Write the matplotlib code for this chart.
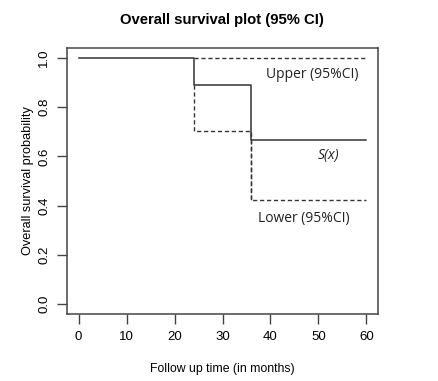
import matplotlib.pyplot as plt

# Kaplan-Meier estimate and 95% CI (step functions)
time_s = [0, 24, 36, 60]
surv = [1.0, 0.889, 0.667, 0.667]
time_ci = [24, 36, 60]
upper = [1.0, 1.0, 1.0]
lower = [0.704, 0.421, 0.421]

x_ticks = [0, 10, 20, 30, 40, 50, 60]
y_ticks = [0.0, 0.2, 0.4, 0.6, 0.8, 1.0]

plt.rcParams['font.family'] = ['Liberation Sans', 'DejaVu Sans']

fig = plt.figure(figsize=(4.38, 3.81), dpi=100)
ax = fig.add_axes([0.153, 0.176, 0.710, 0.698])

col = '#333333'
ax.step(time_s, surv, where='post', color=col, lw=1.1)
ax.step(time_ci, upper, where='post', color=col, lw=1.0, ls=(0, (3, 2)))
ax.step([24, 24] + time_ci[1:], [0.889] + lower, where='post', color=col, lw=1.0, ls=(0, (3, 2)))
ax.plot([36, 36], [0.667, lower[1]], color=col, lw=1.0, ls=(0, (3, 2)))

ax.set_xlim(-2.4, 62.4)
ax.set_ylim(-0.04, 1.04)
ax.set_xticks(x_ticks)
ax.set_yticks(y_ticks)
ax.set_yticklabels([f'{v:.1f}' for v in y_ticks], rotation=90, va='center')
ax.tick_params(direction='out', length=7, width=1, color='#444444', labelsize=9.5, pad=5)

for s in ax.spines.values():
    s.set_color('#444444')
    s.set_linewidth(1.1)

ax.text(48.8, 0.934, 'Upper (95%CI)', ha='center', va='center', fontsize=10, family=['Open Sans', 'DejaVu Sans'], color='#222222')
ax.text(52.1, 0.603, 'S(x)', ha='center', va='center', fontsize=10, style='italic', family=['Open Sans', 'DejaVu Sans'], color='#222222')
ax.text(46.9, 0.347, 'Lower (95%CI)', ha='center', va='center', fontsize=10, family=['Open Sans', 'DejaVu Sans'], color='#222222')

ax.set_xlabel('Follow up time (in months)', fontsize=8.8, labelpad=15)
ax.set_ylabel('Overall survival probability', fontsize=9.2, labelpad=3)
fig.text(0.507, 0.948, 'Overall survival plot (95% CI)', ha='center', va='center', fontsize=10.7, fontweight='bold')

fig.savefig('out.png', dpi=100)
